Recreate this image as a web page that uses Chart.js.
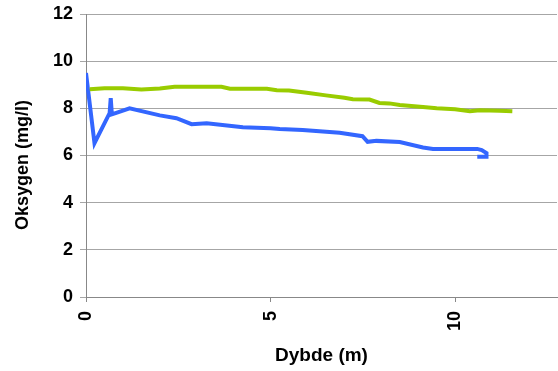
<!DOCTYPE html>
<html>
<head>
<meta charset="utf-8">
<script src="https://cdn.jsdelivr.net/npm/chart.js@4"></script>
<style>
    html, body { margin: 0; padding: 0; background: #fff; }
    #wrap { width: 558px; height: 371px; }
</style>
</head>
<body>
<div id="wrap"><canvas id="oxygen-chart"></canvas></div>
<script>
// green profile
const depthA = [0.1, 0.5, 1.0, 1.5, 2.0, 2.4, 3.0, 3.67, 3.9, 4.5, 4.9, 5.17, 5.5, 5.98, 6.5, 7.0, 7.23, 7.68, 7.95, 8.22, 8.5, 9.13, 9.5, 10.0, 10.4, 10.67, 11.2, 11.55];
const oxygenA = [8.81, 8.85, 8.85, 8.8, 8.84, 8.91, 8.91, 8.91, 8.83, 8.83, 8.83, 8.77, 8.76, 8.66, 8.55, 8.45, 8.39, 8.37, 8.23, 8.21, 8.14, 8.06, 8.0, 7.96, 7.88, 7.92, 7.9, 7.88];

// blue profile
const depthB = [0.0, 0.23, 0.64, 0.67, 0.7, 0.8, 1.18, 2.0, 2.45, 2.86, 3.27, 4.25, 5.0, 5.25, 5.87, 6.87, 7.49, 7.63, 7.87, 8.5, 9.13, 9.4, 10.6, 10.72, 10.85, 10.85, 10.6];
const oxygenB = [9.5, 6.52, 7.8, 8.43, 7.75, 7.8, 8.0, 7.7, 7.58, 7.33, 7.37, 7.2, 7.16, 7.12, 7.08, 6.96, 6.82, 6.58, 6.62, 6.57, 6.34, 6.28, 6.28, 6.23, 6.1, 5.95, 5.95];

const xTicks = [0, 5, 10];
const yTicks = [0, 2, 4, 6, 8, 10, 12];
const yTitle = "Oksygen (mg/l)";

const toPoints = (xs, ys) => xs.map((x, i) => ({ x: x, y: ys[i] }));

// y title sits a little below the middle of the axis, so draw it by hand
const yTitlePlugin = {
    id: "yTitle",
    afterDraw(chart) {
        const c = chart.ctx;
        c.save();
        c.translate(23, 165);
        c.rotate(-Math.PI / 2);
        c.font = "bold 18px 'Liberation Sans', Arial";
        c.fillStyle = "#000";
        c.textAlign = "center";
        c.textBaseline = "middle";
        c.fillText(yTitle, 0, 0);
        c.restore();
    },
};

const ctx = document.getElementById("oxygen-chart");

let chart = new Chart(ctx, {
    type: "scatter",
    data: {
        datasets: [
            {
                label: "A",
                data: toPoints(depthA, oxygenA),
                showLine: true,
                borderColor: "#99cc00",
                borderWidth: 4,
                pointRadius: 0,
                tension: 0,
            },
            {
                label: "B",
                data: toPoints(depthB, oxygenB),
                showLine: true,
                borderColor: "#3366ff",
                borderWidth: 4,
                pointRadius: 0,
                tension: 0,
            },
        ],
    },
    plugins: [yTitlePlugin],
    options: {
        responsive: true,
        maintainAspectRatio: false,
        animation: false,
        layout: {
            padding: { top: 14, right: 1, left: 0, bottom: 0 },
        },
        plugins: {
            legend: { display: false },
            tooltip: { enabled: false },
        },
        scales: {
            x: {
                type: "linear",
                min: 0,
                max: 12.76,
                afterBuildTicks: (scale) => {
                    scale.ticks = xTicks.map((v) => ({ value: v }));
                },
                afterFit: (scale) => {
                    scale.height = 74;
                    scale.paddingLeft = 0;
                    scale.paddingRight = 0;
                },
                grid: {
                    drawOnChartArea: false,
                    color: "#888888",
                    tickLength: 5,
                },
                border: { color: "#888888" },
                ticks: {
                    minRotation: 90,
                    maxRotation: 90,
                    padding: 9,
                    color: "#000",
                    font: { family: "Liberation Sans, Arial", size: 18, weight: "bold" },
                },
                title: {
                    display: true,
                    text: "Dybde (m)",
                    color: "#000",
                    font: { family: "Liberation Sans, Arial", size: 19, weight: "bold" },
                    padding: { top: 0, bottom: 4 },
                },
            },
            y: {
                min: 0,
                max: 12,
                afterBuildTicks: (scale) => {
                    scale.ticks = yTicks.map((v) => ({ value: v }));
                },
                afterFit: (scale) => {
                    scale.width = 86;
                    scale.paddingTop = 0;
                    scale.paddingBottom = 0;
                },
                grid: {
                    color: "#a6a6a6",
                    tickLength: 6,
                },
                border: { color: "#888888" },
                ticks: {
                    padding: 7,
                    color: "#000",
                    font: { family: "Liberation Sans, Arial", size: 18, weight: "bold" },
                },
            },
        },
    },
});
</script>
</body>
</html>
